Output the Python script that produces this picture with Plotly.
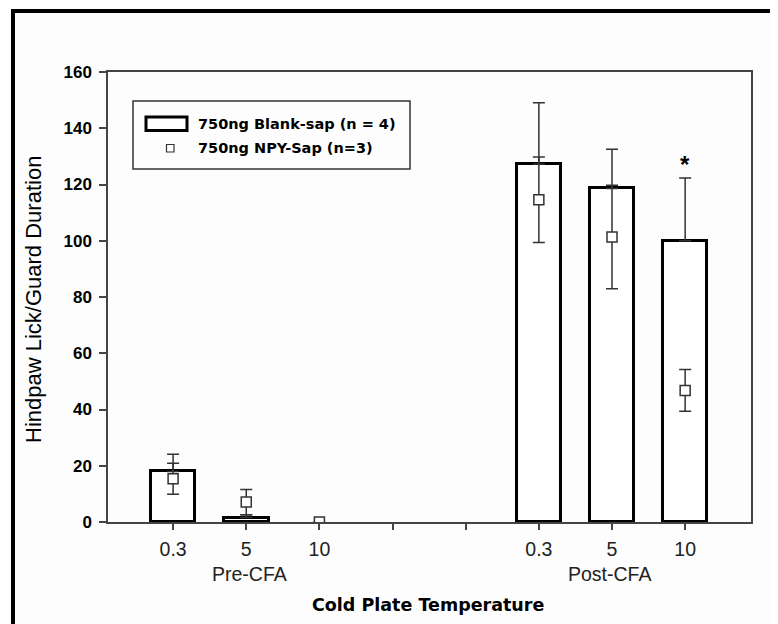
import plotly.graph_objects as go

# ---- data ----
group_labels = ["Pre-CFA", "Post-CFA"]
temp_labels = ["0.3", "5", "10"]
x_pos = [0, 1, 2, 5, 6, 7]           # category slots (two empty slots between groups)
tick_pos = [0, 1, 2, 3, 4, 5, 6, 7]
tick_text = ["0.3", "5", "10", "", "", "0.3", "5", "10"]

blank_mean = [18.0, 1.6, 0.0, 127.3, 118.6, 100.0]
blank_err = [6.1, 1.0, 0.0, 21.8, 13.9, 22.3]
npy_mean = [15.4, 7.1, 0.0, 114.6, 101.3, 46.8]
npy_err = [5.5, 4.5, 0.0, 15.2, 18.4, 7.4]

legend_blank = "750ng Blank-sap (n = 4)"
legend_npy = "750ng NPY-Sap (n=3)"
y_title = "Hindpaw Lick/Guard Duration"
x_title = "Cold Plate Temperature"

# ---- layout geometry (screen pixels; page body has an 8px margin) ----
OFF = 8
SW, SH = 778, 624
L, R, T, B = 108, 751, 72, 522
PW, PH = R - L, B - T


def px(x):
    return (x - L) / PW


def py(y):
    return (B - y) / PH


BG = "#fdfdfd"
AX = "#444444"
ERR = "#333333"

fig = go.Figure()

bar_y = [v if v > 0 else None for v in blank_mean]
fig.add_trace(go.Bar(
    x=x_pos, y=bar_y, width=0.61,
    marker=dict(color="white", line=dict(color="black", width=3)),
    error_y=dict(type="data", symmetric=False, array=blank_err,
                 arrayminus=[0] * len(blank_err), color=ERR, thickness=1.5, width=6),
    showlegend=False, name=legend_blank,
))

fig.add_trace(go.Scatter(
    x=x_pos, y=npy_mean, mode="markers",
    marker=dict(symbol="square", size=10, color="white", line=dict(color=ERR, width=1.5)),
    error_y=dict(type="data", array=npy_err, color=ERR, thickness=1.5, width=6),
    showlegend=False, name=legend_npy,
))

shapes = []
# outer black border (left & top)
shapes.append(dict(type="line", xref="paper", yref="paper", x0=px(13), x1=px(13),
                   y0=py(11), y1=py(640), line=dict(color="black", width=4)))
shapes.append(dict(type="line", xref="paper", yref="paper", x0=px(11), x1=px(790),
                   y0=py(11), y1=py(11), line=dict(color="black", width=4)))
# legend box
shapes.append(dict(type="rect", xref="paper", yref="paper", x0=px(133), x1=px(410),
                   y0=py(169), y1=py(101), line=dict(color=ERR, width=1.5), fillcolor=BG))
# legend bar symbol
shapes.append(dict(type="rect", xref="paper", yref="paper", x0=px(146), x1=px(187),
                   y0=py(130.5), y1=py(117), line=dict(color="black", width=3), fillcolor="white"))
# legend square symbol
shapes.append(dict(type="rect", xref="paper", yref="paper", x0=px(166.5), x1=px(174),
                   y0=py(152), y1=py(144.5), line=dict(color=ERR, width=1.2), fillcolor="white"))

ann = []
ann.append(dict(text=legend_blank, xref="paper", yref="paper", x=px(196), y=py(124),
                xanchor="left", yanchor="middle", showarrow=False,
                font=dict(family="DejaVu Sans", size=14.5, color="black", weight="bold")))
ann.append(dict(text=legend_npy, xref="paper", yref="paper", x=px(196), y=py(148),
                xanchor="left", yanchor="middle", showarrow=False,
                font=dict(family="DejaVu Sans", size=14.5, color="black", weight="bold")))
# group labels
for gi, g in enumerate(group_labels):
    ann.append(dict(text=g, xref="x", yref="paper", x=x_pos[gi * 3 + 1] + (0.05 if gi == 0 else -0.04),
                    y=py(574), xanchor="center", yanchor="middle", showarrow=False,
                    font=dict(family="Arial", size=19.5, color="#222222")))
# axis titles
ann.append(dict(text=x_title, xref="paper", yref="paper", x=px(428), y=py(605),
                xanchor="center", yanchor="middle", showarrow=False,
                font=dict(family="DejaVu Sans", size=17.5, color="black", weight="bold")))
ann.append(dict(text=y_title, xref="paper", yref="paper", x=px(33), y=py(300),
                xanchor="center", yanchor="middle", showarrow=False, textangle=-90,
                font=dict(family="Arial", size=22, color="black")))
# significance asterisk
ann.append(dict(text="*", xref="x", yref="y", x=x_pos[5], y=blank_mean[5] + blank_err[5],
                xanchor="center", yanchor="bottom", yshift=-2, showarrow=False,
                font=dict(family="Arial", size=24, color="black", weight="bold")))

fig.update_layout(
    width=SW - OFF, height=SH - OFF,
    margin=dict(l=L - OFF, r=SW - R, t=T - OFF, b=SH - B, pad=0),
    paper_bgcolor=BG, plot_bgcolor=BG,
    bargap=0, showlegend=False,
    shapes=shapes, annotations=ann,
    xaxis=dict(range=[-0.89, 7.90], tickmode="array", tickvals=tick_pos, ticktext=tick_text,
               ticks="outside", ticklen=6, tickwidth=1.5, tickcolor=AX,
               showline=True, linecolor=AX, linewidth=1.5, mirror=True,
               showgrid=False, zeroline=False, ticklabelstandoff=3,
               tickfont=dict(family="Arial", size=19.5, color="#222222")),
    yaxis=dict(range=[0, 160], tickmode="array", tickvals=list(range(0, 161, 20)),
               ticks="outside", ticklen=7, tickwidth=1.5, tickcolor=AX,
               showline=True, linecolor=AX, linewidth=1.5, mirror=True,
               showgrid=False, zeroline=False, ticklabelstandoff=4,
               tickfont=dict(family="Arial", size=17, color="black", weight="bold")),
)

fig.write_html("out.html")
